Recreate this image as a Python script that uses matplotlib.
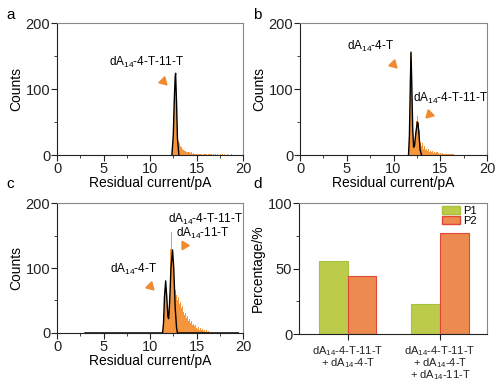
import numpy as np
import matplotlib

matplotlib.use("Agg")
import matplotlib.pyplot as plt
from matplotlib.patches import Patch
from matplotlib.ticker import MultipleLocator

plt.rcParams["font.family"] = ["Liberation Sans", "DejaVu Sans"]
plt.rcParams["mathtext.fontset"] = "custom"
plt.rcParams["mathtext.rm"] = "Liberation Sans"
plt.rcParams["mathtext.it"] = "Liberation Sans"

# ---- histogram data (bin width 0.1 pA) ----
bin_w = 0.1
a_start = 12.4
a_counts = [15, 60, 100, 122, 75, 35, 22, 18, 14, 12, 10, 8, 9, 6, 7, 5, 5, 4, 4, 3,
            4, 2, 3, 2, 2, 1, 2, 1, 1, 2, 1, 1, 0, 1, 2, 1, 1, 0, 1, 1,
            0, 1, 1, 0, 1, 0, 1, 0, 1, 0, 0, 1, 0, 1, 0, 0, 1, 0, 0, 1,
            0, 0, 0, 1, 0, 0]
a_fit_x = [12.35, 12.5, 12.6, 12.7, 12.75, 12.85, 12.95, 13.1]
a_fit_y = [0, 30, 80, 118, 124, 80, 25, 0]

b_start = 11.5
b_counts = [3, 10, 60, 155, 130, 45, 15, 20, 35, 52, 60, 50, 38, 20, 14, 18, 12, 10, 14, 8,
            9, 6, 10, 5, 7, 4, 6, 3, 5, 3, 4, 2, 4, 3, 2, 3, 2, 3, 1, 2,
            2, 1, 2, 1, 1, 2, 1, 1, 1, 1]
b_fit_x = [11.6, 11.7, 11.8, 11.87, 11.95, 12.05, 12.15, 12.25, 12.4, 12.55, 12.62, 12.7, 12.85, 13.0]
b_fit_y = [0, 30, 110, 156, 110, 40, 12, 15, 35, 50, 48, 35, 8, 0]

c_start = 11.3
c_counts = [5, 30, 65, 82, 70, 35, 25, 45, 95, 130, 155, 125, 100, 80, 66, 58, 50, 55, 44, 48,
            38, 42, 32, 35, 27, 30, 23, 26, 19, 22, 15, 18, 12, 14, 10, 12, 8, 10, 6, 9,
            5, 7, 4, 6, 3, 5, 2, 4, 2, 3]
c_fit_x = [3.0, 11.35, 11.45, 11.55, 11.68, 11.8, 11.92, 12.0, 12.1, 12.25, 12.42, 12.55, 12.7, 12.85, 12.95, 19.5]
c_fit_y = [0, 0, 15, 55, 80, 55, 25, 22, 45, 100, 128, 100, 40, 8, 0, 0]

# ---- bar data ----
groups = ["dA$_{14}$-4-T-11-T\n+ dA$_{14}$-4-T",
          "dA$_{14}$-4-T-11-T\n+ dA$_{14}$-4-T\n+ dA$_{14}$-11-T"]
p1 = [56, 23]
p2 = [44, 77]

orange = "#f5963f"
arrow_c = "#f08a30"
dark = "#222222"
light = "#888888"

fig = plt.figure(figsize=(5.01, 3.84), dpi=100)


def style(ax, ymax, ymajor):
    for s in ["left", "bottom"]:
        ax.spines[s].set_color(dark)
    for s in ["top", "right"]:
        ax.spines[s].set_color(light)
    ax.tick_params(which="both", direction="out", colors=dark, labelsize=10.5, pad=1)
    ax.tick_params(which="major", length=4)
    ax.tick_params(which="minor", length=2.5)
    ax.set_ylim(0, ymax)
    ax.yaxis.set_major_locator(MultipleLocator(ymajor))
    ax.yaxis.set_minor_locator(MultipleLocator(ymajor / 2))


def hist_panel(rect, start, counts, fx, fy):
    ax = fig.add_axes(rect)
    edges = start + bin_w * np.arange(len(counts) + 1)
    ax.stairs(counts, edges, fill=True, color=orange, linewidth=0)
    ax.plot(fx, fy, color="black", lw=1.0)
    ax.set_xlim(0, 20)
    style(ax, 200, 100)
    ax.xaxis.set_major_locator(MultipleLocator(5))
    ax.xaxis.set_minor_locator(MultipleLocator(2.5))
    ax.set_xlabel("Residual current/pA", fontsize=10, labelpad=0)
    ax.set_ylabel("Counts", fontsize=10, labelpad=2)
    return ax


def arrowhead(ax, x, y, angle):
    ax.plot(x, y, marker=(3, 0, angle), ms=7, color=arrow_c, mec=arrow_c, clip_on=False)


fs_ann = 8.5

# panel a
axa = hist_panel([0.114, 0.596, 0.371, 0.344], a_start, a_counts, a_fit_x, a_fit_y)
axa.text(9.6, 141, "dA$_{14}$-4-T-11-T", fontsize=fs_ann, ha="center", va="center")
arrowhead(axa, 11.4, 112, 225)

# panel b
axb = hist_panel([0.599, 0.596, 0.373, 0.344], b_start, b_counts, b_fit_x, b_fit_y)
axb.text(7.5, 164, "dA$_{14}$-4-T", fontsize=fs_ann, ha="center", va="center")
axb.text(16.1, 86, "dA$_{14}$-4-T-11-T", fontsize=fs_ann, ha="center", va="center")
arrowhead(axb, 9.9, 138, 225)
arrowhead(axb, 13.8, 62, 135)

# panel c
axc = hist_panel([0.114, 0.133, 0.371, 0.338], c_start, c_counts, c_fit_x, c_fit_y)
axc.text(16.0, 175, "dA$_{14}$-4-T-11-T", fontsize=fs_ann, ha="center", va="center")
axc.text(15.7, 154, "dA$_{14}$-11-T", fontsize=fs_ann, ha="center", va="center")
axc.text(8.2, 98, "dA$_{14}$-4-T", fontsize=fs_ann, ha="center", va="center")
arrowhead(axc, 10.0, 72, 225)
arrowhead(axc, 13.6, 135, 150)

# panel d
axd = fig.add_axes([0.597, 0.130, 0.375, 0.341])
x = np.arange(len(groups))
w = 0.31
axd.bar(x - w / 2, p1, w, color="#bccb4a", edgecolor="#a5c23c", linewidth=0.8, label="P1")
axd.bar(x + w / 2, p2, w, color="#ec8a4f", edgecolor="#e2463a", linewidth=0.8, label="P2")
axd.set_xlim(-0.53, 1.51)
style(axd, 100, 50)
axd.set_xticks(x)
axd.set_xticklabels(groups, fontsize=8, multialignment="center", linespacing=0.85)
axd.tick_params(axis="x", pad=3)
axd.set_ylabel("Percentage/%", fontsize=10, labelpad=2)
handles = [Patch(facecolor="#bccb4a", edgecolor="#a5c23c", label="P1"),
           Patch(facecolor="#ec8a4f", edgecolor="#e2463a", label="P2")]
axd.legend(handles=handles, loc="upper right", frameon=False, fontsize=8,
           handlelength=1.6, handleheight=0.8, labelspacing=0.0, borderaxespad=0.0,
           borderpad=0.1, handletextpad=0.25, bbox_to_anchor=(0.95, 0.99))

for letter, (fx, fy) in zip("abcd", [(0.012, 0.962), (0.505, 0.962), (0.012, 0.522), (0.505, 0.522)]):
    fig.text(fx, fy, letter, fontsize=11, ha="left", va="center")

fig.savefig("out.png", dpi=100)
